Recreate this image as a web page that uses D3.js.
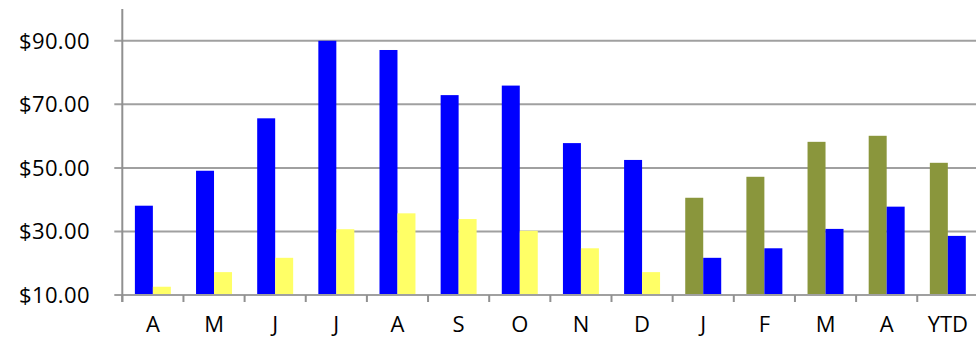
<!DOCTYPE html>
<html>
<head>
<meta charset="utf-8">
<script src="https://cdn.jsdelivr.net/npm/d3@7"></script>
<style>
  body { margin: 0; background: #fff; }
  svg text { font-family: "Open Sans", Calibri, sans-serif; font-size: 22px; fill: #000; }
</style>
</head>
<body>
<div id="chart"></div>
<script>
// Chart data
let months = ["A", "M", "J", "J", "A", "S", "O", "N", "D", "J", "F", "M", "A", "YTD"];
let period = [0, 0, 0, 0, 0, 0, 0, 0, 0, 1, 1, 1, 1, 1];   // which year the month belongs to
let firstBar = [38.1, 49.1, 65.6, 90.0, 87.1, 72.9, 75.9, 57.8, 52.5, 40.6, 47.2, 58.2, 60.1, 51.6];
let secondBar = [12.6, 17.2, 21.7, 30.7, 35.7, 33.9, 30.2, 24.7, 17.2, 21.7, 24.7, 30.8, 37.8, 28.6];
let yTicks = [10, 30, 50, 70, 90];

// colours for [first bar, second bar] in each period
let periodColors = [["#0000ff", "#ffff66"], ["#8a963c", "#0000ff"]];

let width = 976, height = 339;
let left = 122.3, bottom = 295;

let svg = d3.select("#chart").append("svg")
  .attr("width", width)
  .attr("height", height);

let x = d3.scaleBand()
  .domain(d3.range(months.length))
  .range([left, left + 61.15 * months.length])
  .padding(0);

let inner = d3.scaleBand()
  .domain([0, 1])
  .range([0, x.bandwidth()])
  .paddingInner(0)
  .paddingOuter(0.7);

let y = d3.scaleLinear().domain([10, 100]).range([bottom, 9]);

// gridlines + little outside ticks on the y axis
svg.append("g")
  .selectAll("line")
  .data(yTicks)
  .enter()
  .append("line")
  .attr("x1", left - 8)
  .attr("x2", width)
  .attr("y1", d => y(d))
  .attr("y2", d => y(d))
  .attr("stroke", "#a0a0a0")
  .attr("stroke-width", 2);

// bars
let rows = months.map((m, i) => ({ i: i, vals: [firstBar[i], secondBar[i]] }));

let groups = svg.append("g")
  .selectAll("g")
  .data(rows)
  .enter()
  .append("g")
  .attr("transform", d => "translate(" + x(d.i) + ",0)");

groups.selectAll("rect")
  .data(d => d.vals.map((v, k) => ({ k: k, v: v, p: period[d.i] })))
  .enter()
  .append("rect")
  .attr("x", d => inner(d.k))
  .attr("width", inner.bandwidth())
  .attr("y", d => y(d.v))
  .attr("height", d => bottom - y(d.v))
  .attr("fill", d => periodColors[d.p][d.k]);

// x axis line and ticks
let xAxis = svg.append("g").attr("transform", "translate(0," + bottom + ")");
xAxis.append("line")
  .attr("x1", left).attr("x2", width)
  .attr("stroke", "#a0a0a0").attr("stroke-width", 2);
xAxis.selectAll(".tk")
  .data(d3.range(months.length))
  .enter()
  .append("line")
  .attr("class", "tk")
  .attr("x1", d => x(d)).attr("x2", d => x(d))
  .attr("y1", 0).attr("y2", 7)
  .attr("stroke", "#909090").attr("stroke-width", 2);

// y axis line
svg.append("line")
  .attr("x1", left).attr("x2", left)
  .attr("y1", 9).attr("y2", bottom + 7)
  .attr("stroke", "#909090")
  .attr("stroke-width", 2);

// y labels
let fmt = d3.format("$.2f");
svg.append("g")
  .selectAll("text")
  .data(yTicks)
  .enter()
  .append("text")
  .attr("x", 90)
  .attr("y", d => y(d))
  .attr("dy", "0.36em")
  .attr("text-anchor", "end")
  .style("letter-spacing", "0.4px")
  .text(d => fmt(d));

// x labels
svg.append("g")
  .selectAll("text")
  .data(months)
  .enter()
  .append("text")
  .attr("x", (d, i) => x(i) + x.bandwidth() / 2)
  .attr("y", 332)
  .attr("text-anchor", "middle")
  .text(d => d);
</script>
</body>
</html>
